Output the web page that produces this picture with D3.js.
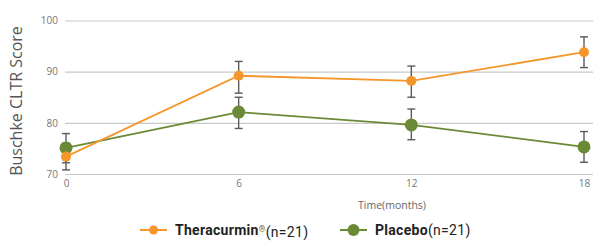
<!DOCTYPE html>
<html>
<head>
<meta charset="utf-8">
<script src="https://cdnjs.cloudflare.com/ajax/libs/d3/7.8.5/d3.min.js"></script>
<style>
  body { margin: 0; background: #fff; }
  svg { display: block; }
</style>
</head>
<body>
<svg id="chart" width="594" height="243"></svg>
<script>
// data
const months = [0, 6, 12, 18];
const yTicks = [70, 80, 90, 100];
const theraMean = [73.4, 89.2, 88.2, 93.8];
const theraLow = [70.8, 85.8, 85.0, 90.8];
const theraHigh = [76.0, 92.0, 91.1, 96.8];
const placeboMean = [75.1, 82.1, 79.6, 75.3];
const placeboLow = [72.2, 78.9, 76.7, 72.3];
const placeboHigh = [77.9, 85.0, 82.7, 78.3];

const seriesList = [
    { name: 'Placebo', mean: placeboMean, low: placeboLow, high: placeboHigh, color: '#6b8a35', r: 6.5 },
    { name: 'Theracurmin', mean: theraMean, low: theraLow, high: theraHigh, color: '#f5962a', r: 5 }
];

let svg = d3.select('#chart');

let xScale = d3.scaleLinear().domain([0, 18]).range([66, 584]);
let yScale = d3.scaleLinear().domain([70, 100]).range([174, 20.5]);

// gridlines
svg.append('g')
    .selectAll('line')
    .data(yTicks)
    .enter().append('line')
    .attr('x1', 65)
    .attr('x2', 593)
    .attr('y1', d => yScale(d) + 0.5)
    .attr('y2', d => yScale(d) + 0.5)
    .attr('stroke', '#c9c9c9')
    .attr('stroke-width', 1.2);

// y axis labels
let yAxis = svg.append('g')
    .attr('transform', 'translate(58,0)')
    .call(d3.axisLeft(yScale).tickValues(yTicks).tickSize(0).tickPadding(0));
yAxis.select('.domain').remove();
yAxis.selectAll('text')
    .attr('fill', '#777')
    .style('font', '10px "Open Sans", sans-serif');

// x axis labels
let xAxis = svg.append('g')
    .attr('transform', 'translate(0,180)')
    .call(d3.axisBottom(xScale).tickValues(months).tickSize(0).tickPadding(0));
xAxis.select('.domain').remove();
xAxis.selectAll('text')
    .attr('fill', '#777')
    .style('font', '10px "Open Sans", sans-serif');

svg.append('text')
    .attr('x', 392)
    .attr('y', 209)
    .attr('text-anchor', 'middle')
    .attr('fill', '#666')
    .style('font', '10.5px "Open Sans", sans-serif')
    .text('Time(months)');

svg.append('text')
    .attr('transform', 'translate(22,101) rotate(-90)')
    .attr('text-anchor', 'middle')
    .attr('fill', '#555')
    .style('font', '16px "Open Sans", sans-serif')
    .text('Buschke CLTR Score');

let line = d3.line()
    .x((d, i) => xScale(months[i]))
    .y(d => yScale(d));

// lines first, then error bars, then points
seriesList.forEach(s => {
    svg.append('path')
        .attr('d', line(s.mean))
        .attr('fill', 'none')
        .attr('stroke', s.color)
        .attr('stroke-width', 1.8);
});

seriesList.forEach(s => {
    let eb = svg.append('g')
        .attr('stroke', '#5a5a5a')
        .attr('stroke-width', 1.4);
    months.forEach((m, i) => {
        let x = xScale(m);
        eb.append('line').attr('x1', x).attr('x2', x)
            .attr('y1', yScale(s.low[i])).attr('y2', yScale(s.high[i]));
        eb.append('line').attr('x1', x - 4).attr('x2', x + 4)
            .attr('y1', yScale(s.low[i])).attr('y2', yScale(s.low[i]));
        eb.append('line').attr('x1', x - 4).attr('x2', x + 4)
            .attr('y1', yScale(s.high[i])).attr('y2', yScale(s.high[i]));
    });
});

seriesList.forEach(s => {
    svg.append('g')
        .selectAll('circle')
        .data(s.mean)
        .enter().append('circle')
        .attr('cx', (d, i) => xScale(months[i]))
        .attr('cy', d => yScale(d))
        .attr('r', s.r)
        .attr('fill', s.color);
});

// legend
let legend = svg.append('g').attr('transform', 'translate(0,230)');
let items = [
    { x: 140, color: '#f5962a', r: 4.5, bold: 'Theracurmin', sup: '®', rest: '(n=21)' },
    { x: 340, color: '#6b8a35', r: 6, bold: 'Placebo', sup: '', rest: '(n=21)' }
];
items.forEach(it => {
    legend.append('line')
        .attr('x1', it.x).attr('x2', it.x + 27)
        .attr('stroke', it.color).attr('stroke-width', 2);
    legend.append('circle')
        .attr('cx', it.x + 13.5).attr('r', it.r).attr('fill', it.color);
    let t = legend.append('text')
        .attr('x', it.x + 35)
        .attr('dy', '0.35em')
        .attr('fill', '#222')
        .style('font', '14px Roboto, sans-serif')
        .style('letter-spacing', '0.3px');
    t.append('tspan').style('font-weight', 'bold').text(it.bold);
    if (it.sup) {
        t.append('tspan').attr('dy', '-0.35em').style('font-size', '8.5px').attr('fill', '#666').text(it.sup);
        t.append('tspan').attr('dy', '0.35em').text(it.rest);
    } else {
        t.append('tspan').text(it.rest);
    }
});
</script>
</body>
</html>
